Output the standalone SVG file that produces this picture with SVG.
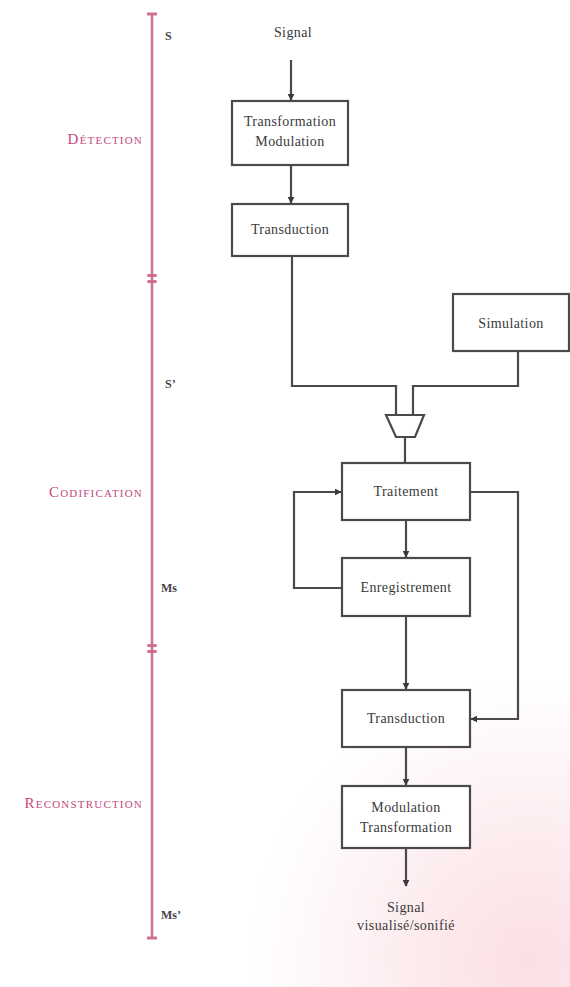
<svg xmlns="http://www.w3.org/2000/svg" width="570" height="987" viewBox="0 0 570 987">
<defs>
<style>
.box{fill:#fff;stroke:#4a4a4a;stroke-width:2.2}
.ln{fill:none;stroke:#4a4a4a;stroke-width:2.2}
.t{font-family:"Liberation Serif",serif;font-size:14px;fill:#3a3a3a;text-anchor:middle;letter-spacing:0.4px}
.lb{font-family:"Liberation Serif",serif;font-size:12px;font-weight:bold;fill:#444}
.ph{font-family:"Liberation Serif",serif;font-size:15px;fill:#c24a7c;text-anchor:end;font-variant:small-caps;letter-spacing:1.2px}
.pk{stroke:#cf6f96;stroke-width:2.5;fill:none}
.tk{fill:#cf6f96}
</style>
<marker id="ah" viewBox="0 0 10 10" refX="9" refY="5" markerWidth="7" markerHeight="7" orient="auto" markerUnits="userSpaceOnUse">
<path d="M0,0 L10,5 L0,10 z" fill="#3a3a3a"/>
</marker>
<radialGradient id="glow" cx="530" cy="960" r="280" gradientUnits="userSpaceOnUse">
<stop offset="0" stop-color="#fbdfe4"/>
<stop offset="0.55" stop-color="#fdf0f2"/>
<stop offset="1" stop-color="#ffffff"/>
</radialGradient>
</defs>
<rect width="570" height="987" fill="url(#glow)"/>

<g id="scale">
<line class="pk" x1="152" y1="14" x2="152" y2="938"/>
<rect class="tk" x="147" y="12.5" width="10" height="3"/>
<rect class="tk" x="147" y="274" width="10" height="3" rx="1.5"/>
<rect class="tk" x="147" y="280" width="10" height="3" rx="1.5"/>
<rect class="tk" x="147" y="644" width="10" height="3" rx="1.5"/>
<rect class="tk" x="147" y="650" width="10" height="3" rx="1.5"/>
<rect class="tk" x="147" y="936.5" width="10" height="3"/>
<text class="lb" x="165" y="40">S</text>
<text class="lb" x="165" y="388">S’</text>
<text class="lb" x="161" y="592">Ms</text>
<text class="lb" x="161" y="919">Ms’</text>
<text class="ph" x="143" y="144">Détection</text>
<text class="ph" x="143" y="497">Codification</text>
<text class="ph" x="143" y="808">Reconstruction</text>
</g>

<g id="connectors">
<line class="ln" x1="291" y1="60" x2="291" y2="100" marker-end="url(#ah)"/>
<line class="ln" x1="291" y1="165" x2="291" y2="203" marker-end="url(#ah)"/>
<path class="ln" d="M292,256 V386 H396 V415"/>
<path class="ln" d="M518,351 V386 H413 V415"/>
<line class="ln" x1="405" y1="437" x2="405" y2="463"/>
<line class="ln" x1="406" y1="520" x2="406" y2="557" marker-end="url(#ah)"/>
<path class="ln" d="M342,588 H294 V492 H341" marker-end="url(#ah)"/>
<path class="ln" d="M470,492 H518 V719 H471" marker-end="url(#ah)"/>
<line class="ln" x1="406" y1="616" x2="406" y2="689" marker-end="url(#ah)"/>
<line class="ln" x1="406" y1="747" x2="406" y2="785" marker-end="url(#ah)"/>
<line class="ln" x1="406" y1="848" x2="406" y2="886" marker-end="url(#ah)"/>
</g>

<g id="signal-in"><text class="t" x="293" y="37">Signal</text></g>

<g id="transformation-modulation">
<rect class="box" x="232" y="101" width="116" height="64"/>
<text class="t" x="290" y="126">Transformation</text>
<text class="t" x="290" y="146">Modulation</text>
</g>

<g id="transduction-1">
<rect class="box" x="232" y="204" width="116" height="52"/>
<text class="t" x="290" y="234">Transduction</text>
</g>

<g id="simulation">
<rect class="box" x="453" y="294" width="116" height="57"/>
<text class="t" x="511" y="328">Simulation</text>
</g>

<g id="mixer">
<polygon class="box" points="386,415 424,415 415,437 396,437"/>
</g>

<g id="traitement">
<rect class="box" x="342" y="463" width="128" height="57"/>
<text class="t" x="406" y="496">Traitement</text>
</g>

<g id="enregistrement">
<rect class="box" x="342" y="558" width="128" height="58"/>
<text class="t" x="406" y="592">Enregistrement</text>
</g>

<g id="transduction-2">
<rect class="box" x="342" y="690" width="128" height="57"/>
<text class="t" x="406" y="723">Transduction</text>
</g>

<g id="modulation-transformation">
<rect class="box" x="342" y="786" width="128" height="62"/>
<text class="t" x="406" y="812">Modulation</text>
<text class="t" x="406" y="832">Transformation</text>
</g>

<g id="signal-out">
<text class="t" x="406" y="912">Signal</text>
<text class="t" x="406" y="930">visualisé/sonifié</text>
</g>
</svg>
